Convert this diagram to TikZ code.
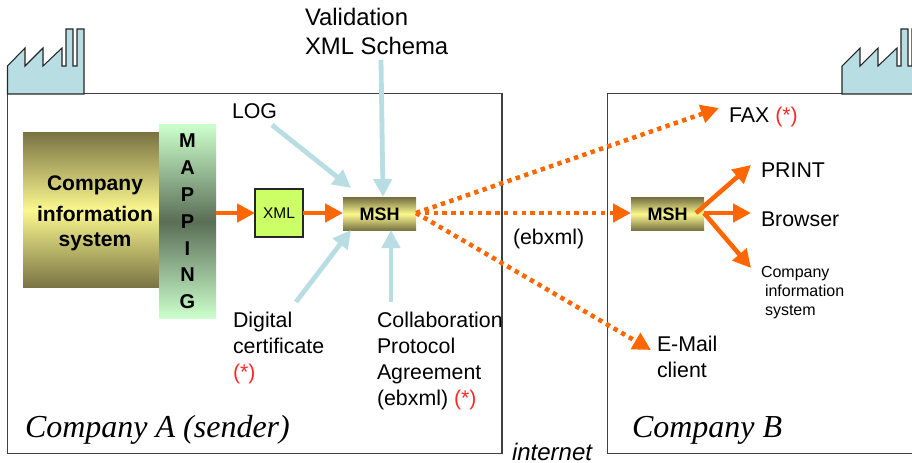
\documentclass[tikz,border=0pt]{standalone}
\usepackage{fontspec}
\setmainfont{Liberation Sans}
\newfontfamily\timesfont{Liberation Serif}
\usetikzlibrary{arrows.meta}
\definecolor{orangeA}{HTML}{FF6600}
\definecolor{paleblue}{HTML}{B8DEE3}
\definecolor{starred}{HTML}{FF2A2A}
\definecolor{brassdark}{HTML}{7A7444}
\definecolor{brasslight}{HTML}{FBF88F}
\definecolor{mapedge}{HTML}{CCFFCC}
\definecolor{mapmid}{HTML}{5A6E56}
\definecolor{xmlgreen}{HTML}{CCFF66}
\definecolor{frameline}{HTML}{404040}
\newcommand{\fsz}[2]{\fontsize{#1}{#2}\selectfont}
\tikzset{
  x=0.75pt,y=-0.75pt,
  lbl/.style={inner sep=0pt,outer sep=0pt,anchor=base west,align=left,text=black,font=\fsz{16pt}{19.5pt}},
  brass/.style={inner sep=0pt,outer sep=0pt,top color=brassdark,bottom color=brassdark,middle color=brasslight,font=\bfseries},
  mshbox/.style={brass,minimum width=54.75pt,minimum height=24pt,font=\bfseries\fsz{13.5pt}{16pt}},
  frame/.style={draw=frameline,line width=0.9pt,fill=white},
  factory/.style={draw=black!85,line width=0.8pt,fill=paleblue,line join=miter},
  solidarrow/.style={draw=orangeA,line width=3.4pt,-{Triangle[length=13.5pt,width=13.5pt]}},
  dotarrow/.style={draw=orangeA,line width=3.4pt,dash pattern=on 3.3pt off 3.3pt,-{Triangle[length=13.5pt,width=13.5pt]}},
  bluearrow/.style={draw=paleblue,line width=3.6pt,-{Triangle[length=13.5pt,width=13.5pt]}},
}
\begin{document}
\begin{tikzpicture}
\useasboundingbox (0,0) rectangle (912,463);
% frames
\draw[frame] (7.5,93.5) rectangle (502,453.5);
\draw[frame] (607.5,93.5) rectangle (916,453.5);
% factories
\draw[factory] (7.5,94) -- (7.5,66) -- (25,48) -- (25,66) -- (43,48) -- (43,66) -- (62,48) -- (62,66) -- (66,66) -- (66,29) -- (73,29) -- (73,66) -- (77,66) -- (77,29) -- (84,29) -- (84,94) -- cycle;
\draw[factory] (842,94) -- (842,66) -- (860,48) -- (860,66) -- (878,48) -- (878,66) -- (897,48) -- (897,66) -- (901,66) -- (901,29) -- (908,29) -- (908,66) -- (912,66) -- (912,29) -- (919,29) -- (919,94) -- cycle;
% left blocks
\node[brass,minimum width=102pt,minimum height=115.5pt,anchor=north west,align=center,font=\bfseries\fsz{15.8pt}{18.8pt}] (cis) at (23,133) {\hspace*{6pt}\rule{0pt}{15.7pt}Company\\[4.5pt]\hspace*{6pt}information\\\hspace*{6pt}system};
\node[inner sep=0pt,outer sep=0pt,anchor=north west,minimum width=42.75pt,minimum height=144.75pt,top color=mapedge,bottom color=mapedge,middle color=mapmid,align=center,font=\bfseries\fsz{15pt}{20.1pt}] (map) at (159,125) {M\\A\\P\\P\\I\\N\\G};
\node[draw=black!85,line width=0.8pt,fill=xmlgreen,inner sep=0pt,outer sep=0pt,minimum width=36pt,minimum height=36pt,font=\fsz{11.6pt}{14pt}] (xml) at (279,213) {XML};
\node[mshbox] (mshA) at (379.5,214) {MSH};
\node[mshbox] (mshB) at (667.5,214) {MSH};
% labels
\node[lbl,font=\fsz{17.9pt}{21.75pt}] (valid) at (305,55) {Validation\\XML Schema};
\node[lbl] (log) at (232,119) {LOG};
\node[lbl] (digital) at (233,379) {Digital\\certificate\\{\color{starred}(*)}};
\node[lbl] (collab) at (377,405) {Collaboration\\Protocol\\Agreement\\(ebxml) {\color{starred}(*)}};
\node[lbl] (fax) at (729,123) {FAX {\color{starred}(*)}};
\node[lbl] (print) at (761,178) {PRINT};
\node[lbl] (browser) at (761,226) {Browser};
\node[lbl,font=\fsz{12pt}{14.25pt}] (cisB) at (761,315) {Company\\\hspace*{3pt}information\\\hspace*{3pt}system};
\node[lbl] (email) at (657,377) {E-Mail\\client};
\node[lbl] (ebxml) at (513,244) {(ebxml)};
\node[lbl,font=\itshape\fsz{18pt}{20pt}] (inet) at (512,460) {internet};
\node[lbl,font=\timesfont\itshape\fsz{24pt}{28pt}] (compA) at (25,437) {Company A (sender)};
\node[lbl,font=\timesfont\itshape\fsz{24pt}{28pt}] (compB) at (632,437) {Company B};
% connectors
\draw[solidarrow] (map.east |- xml.west) -- (xml.west);
\draw[solidarrow] (xml.east) -- (mshA.west |- xml.east);
\draw[bluearrow] ([shift={(76,5)}]valid.base west) -- ([shift={(3.5,-1)}]mshA.north);
\draw[bluearrow] ([shift={(40,6)}]log.base west) -- ([shift={(8,-10)}]mshA.north west);
\draw[bluearrow] ([shift={(63,-77)}]digital.base west) -- ([shift={(8,0)}]mshA.south west);
\draw[bluearrow] ([shift={(14,-103)}]collab.base west) -- ([shift={(11.5,0)}]mshA.south);
\draw[dotarrow] (mshA.east |- xml.east) -- ([shift={(-10,-15)}]fax.base west);
\draw[dotarrow] (mshA.east |- xml.east) -- (mshB.west |- xml.east);
\draw[dotarrow] (mshA.east |- xml.east) -- ([shift={(-6,-27)}]email.base west);
\draw[solidarrow] ([shift={(-8,-1)}]mshB.east) -- ([shift={(-10,-13)}]print.base west);
\draw[solidarrow] ([shift={(0,-1)}]mshB.east) -- ([shift={(-10,-13)}]browser.base west);
\draw[solidarrow] ([shift={(0,-1)}]mshB.east) -- ([shift={(-10,-47)}]cisB.base west);
\end{tikzpicture}
\end{document}
